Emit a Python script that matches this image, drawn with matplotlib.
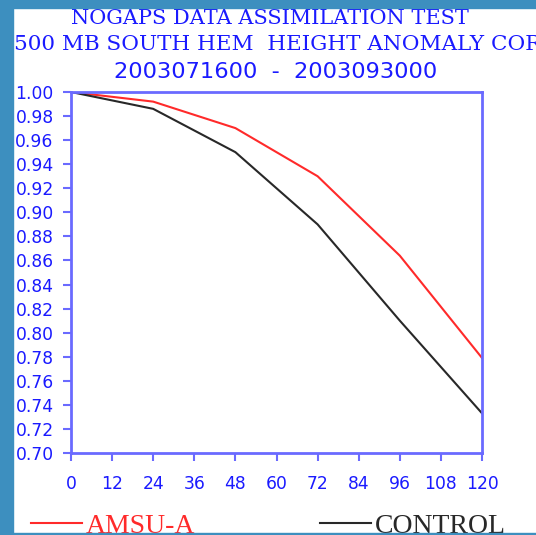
import matplotlib
matplotlib.use("Agg")
import matplotlib.pyplot as plt
from matplotlib.patches import Rectangle

# ---- data ----
hours = [0, 24, 48, 72, 96, 120]
amsu_a = [1.000, 0.992, 0.970, 0.930, 0.864, 0.779]
control = [1.000, 0.986, 0.950, 0.890, 0.810, 0.733]
xticks = [0, 12, 24, 36, 48, 60, 72, 84, 96, 108, 120]
yticks = [0.70, 0.72, 0.74, 0.76, 0.78, 0.80, 0.82, 0.84, 0.86, 0.88, 0.90,
          0.92, 0.94, 0.96, 0.98, 1.00]
title1 = "NOGAPS DATA ASSIMILATION TEST"
title2 = "500 MB SOUTH HEM  HEIGHT ANOMALY CORRELATION"
title3 = "2003071600  -  2003093000"
series_names = ["AMSU-A", "CONTROL"]

W, H = 536, 535
fig = plt.figure(figsize=(W / 100, H / 100), dpi=100)
fig.patch.set_facecolor("white")

def px(x, y):
    return x / W, 1 - y / H

TXT_BLUE = "#1a1aff"
SPINE_BLUE = "#6a6aff"
BG_BLUE = "#3d8fbf"

l, t = px(71, 92)
r, b = px(482, 453)
ax = fig.add_axes([l, b, r - l, t - b])

l1, = ax.plot(hours, amsu_a, color="#ff2a2a", lw=1.5, label=series_names[0])
l2, = ax.plot(hours, control, color="#282828", lw=1.5, label=series_names[1])

ax.set_xlim(0, 120)
ax.set_ylim(0.70, 1.00)
ax.set_xticks(xticks)
ax.set_xticklabels([str(v) for v in xticks])
ax.set_yticks(yticks)
ax.set_yticklabels([f"{v:.2f}" for v in yticks])
for s in ax.spines.values():
    s.set_color(SPINE_BLUE)
    s.set_linewidth(2)
ax.tick_params(axis="both", direction="out", length=5.5, width=1.5,
               color=SPINE_BLUE, labelcolor=TXT_BLUE, labelsize=12.3)
ax.tick_params(axis="y", pad=7)
ax.tick_params(axis="x", pad=10)
for lab in ax.get_xticklabels() + ax.get_yticklabels():
    lab.set_family("DejaVu Sans")

serif = "DejaVu Serif"
x1, y1 = px(270, 18.5)
fig.text(x1, y1, title1, ha="center", va="center", color=TXT_BLUE,
         fontsize=15, family=serif)
x2, y2 = px(14, 44)
fig.text(x2, y2, title2, ha="left", va="center", color=TXT_BLUE,
         fontsize=15.45, family=serif)
x3, y3 = px(276, 72.5)
fig.text(x3, y3, title3, ha="center", va="center", color=TXT_BLUE,
         fontsize=16.2, family="DejaVu Sans")

lx, ly = px(31, 526)
leg = fig.legend(handles=[l1, l2], loc="center left", bbox_to_anchor=(lx, ly),
                 ncol=2, frameon=False, handlelength=1.83, handletextpad=0.15,
                 columnspacing=4.5, borderpad=0, borderaxespad=0,
                 prop={"family": "Liberation Serif", "size": 20})
for txt, c in zip(leg.get_texts(), ["#ff2a2a", "#282828"]):
    txt.set_color(c)
for h in leg.legend_handles:
    h.set_linewidth(1.5)

# slide background strips
fig.add_artist(Rectangle((0, 0), 13 / W, 1, transform=fig.transFigure,
                         color=BG_BLUE, zorder=10))
fig.add_artist(Rectangle((0, 1 - 8 / H), 1, 8 / H, transform=fig.transFigure,
                         color=BG_BLUE, zorder=10))
fig.add_artist(Rectangle((0, 0), 1, 2.5 / H, transform=fig.transFigure,
                         color=BG_BLUE, zorder=10))

fig.savefig("out.png", dpi=100, facecolor=fig.get_facecolor())
